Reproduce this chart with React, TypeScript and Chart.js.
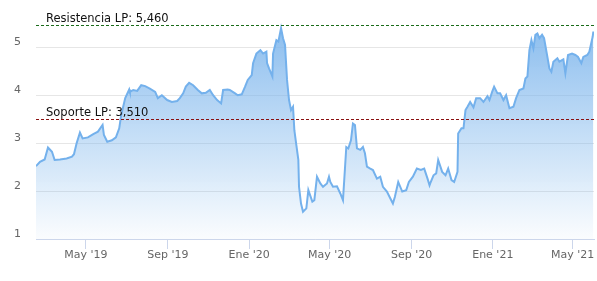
import { useEffect, useRef } from 'react';
import { Chart, registerables } from 'chart.js';

Chart.register(...registerables);

// ---- data ----
const DATES = [
  '2019-02-15','2019-02-21','2019-02-28','2019-03-05','2019-03-11','2019-03-15','2019-03-23','2019-04-02','2019-04-10','2019-04-13',
  '2019-04-17','2019-04-22','2019-04-26','2019-05-04','2019-05-12','2019-05-19','2019-05-26','2019-05-28','2019-06-02','2019-06-09',
  '2019-06-15','2019-06-20','2019-06-23','2019-06-29','2019-07-05','2019-07-06','2019-07-11','2019-07-17','2019-07-23','2019-07-29',
  '2019-08-05','2019-08-13','2019-08-17','2019-08-23','2019-08-31','2019-09-07','2019-09-15','2019-09-19','2019-09-24','2019-09-28',
  '2019-10-03','2019-10-09','2019-10-16','2019-10-22','2019-10-28','2019-11-03','2019-11-08','2019-11-14','2019-11-20','2019-11-23',
  '2019-11-30','2019-12-03','2019-12-11','2019-12-15','2019-12-21','2019-12-26','2019-12-30','2020-01-05','2020-01-07','2020-01-12',
  '2020-01-18','2020-01-22','2020-01-27','2020-01-28','2020-01-31','2020-02-05','2020-02-06','2020-02-11','2020-02-14','2020-02-18',
  '2020-02-21','2020-02-24','2020-02-27','2020-03-01','2020-03-04','2020-03-07','2020-03-09','2020-03-12','2020-03-15','2020-03-16',
  '2020-03-19','2020-03-22','2020-03-27','2020-03-30','2020-04-05','2020-04-08','2020-04-12','2020-04-17','2020-04-21','2020-04-27',
  '2020-04-30','2020-05-02','2020-05-06','2020-05-12','2020-05-17','2020-05-21','2020-05-26','2020-05-29','2020-06-02','2020-06-05',
  '2020-06-08','2020-06-11','2020-06-16','2020-06-20','2020-06-23','2020-06-26','2020-07-01','2020-07-05','2020-07-11','2020-07-16',
  '2020-07-20','2020-07-26','2020-07-31','2020-08-04','2020-08-07','2020-08-12','2020-08-18','2020-08-24','2020-08-28','2020-09-03',
  '2020-09-09','2020-09-15','2020-09-20','2020-09-25','2020-09-28','2020-09-29','2020-10-04','2020-10-08','2020-10-11','2020-10-17',
  '2020-10-22','2020-10-26','2020-10-31','2020-11-04','2020-11-09','2020-11-10','2020-11-15','2020-11-18','2020-11-21','2020-11-24',
  '2020-11-28','2020-12-03','2020-12-07','2020-12-13','2020-12-18','2020-12-24','2020-12-27','2020-12-31','2021-01-03','2021-01-08',
  '2021-01-12','2021-01-17','2021-01-21','2021-01-26','2021-02-01','2021-02-05','2021-02-10','2021-02-16','2021-02-19','2021-02-22',
  '2021-02-25','2021-02-28','2021-03-03','2021-03-06','2021-03-09','2021-03-12','2021-03-16','2021-03-19','2021-03-24','2021-03-27',
  '2021-03-30','2021-04-02','2021-04-08','2021-04-11','2021-04-17','2021-04-20','2021-04-24','2021-04-30','2021-05-05','2021-05-09',
  '2021-05-14','2021-05-17','2021-05-23','2021-05-26','2021-05-31','2021-06-01',
];

const PRICES = [
  2.52, 2.61, 2.66, 2.91, 2.82, 2.65, 2.66, 2.68, 2.72, 2.77,
  3.00, 3.22, 3.10, 3.12, 3.19, 3.24, 3.38, 3.17, 3.03, 3.06,
  3.12, 3.31, 3.59, 3.94, 4.12, 4.07, 4.11, 4.09, 4.21, 4.19,
  4.14, 4.07, 3.94, 4.00, 3.90, 3.86, 3.88, 3.94, 4.04, 4.18,
  4.26, 4.21, 4.11, 4.04, 4.05, 4.11, 4.00, 3.90, 3.83, 4.11,
  4.12, 4.11, 4.04, 4.00, 4.02, 4.18, 4.32, 4.42, 4.67, 4.87,
  4.94, 4.87, 4.91, 4.67, 4.56, 4.39, 4.87, 5.15, 5.12, 5.40,
  5.19, 5.05, 4.32, 3.90, 3.69, 3.76, 3.27, 2.96, 2.65, 2.09,
  1.74, 1.57, 1.64, 2.02, 1.78, 1.81, 2.30, 2.16, 2.09, 2.16,
  2.30, 2.19, 2.09, 2.10, 1.95, 1.81, 2.92, 2.89, 3.06, 3.41,
  3.38, 2.89, 2.86, 2.92, 2.79, 2.51, 2.47, 2.44, 2.26, 2.30,
  2.09, 1.99, 1.85, 1.74, 1.88, 2.19, 1.99, 2.02, 2.19, 2.30,
  2.47, 2.44, 2.47, 2.26, 2.12, 2.16, 2.33, 2.37, 2.65, 2.40,
  2.33, 2.47, 2.23, 2.19, 2.40, 3.20, 3.31, 3.31, 3.69, 3.76,
  3.86, 3.75, 3.94, 3.94, 3.86, 3.98, 3.90, 4.07, 4.18, 4.04,
  4.04, 3.90, 4.00, 3.73, 3.76, 3.94, 4.11, 4.14, 4.35, 4.39,
  4.94, 5.15, 4.98, 5.26, 5.29, 5.19, 5.26, 5.19, 4.80, 4.56,
  4.49, 4.70, 4.77, 4.70, 4.75, 4.46, 4.84, 4.87, 4.84, 4.80,
  4.67, 4.80, 4.84, 4.91, 5.22, 5.33,
];

const X_RANGE = ['2019-02-15', '2021-06-02'];
const TICK_DATES = ['2019-05-01', '2019-09-01', '2020-01-01', '2020-05-01', '2020-09-01', '2021-01-01', '2021-05-01'];
const TICK_LABELS = ["May '19", "Sep '19", "Ene '20", "May '20", "Sep '20", "Ene '21", "May '21"];
const Y_TICKS = [1, 2, 3, 4, 5];
const Y_RANGE = [1, 5.8];

const LEVEL_LABELS = ['Resistencia LP: 5,460', 'Soporte LP: 3,510'];
const LEVEL_VALUES = [5.46, 3.51];
const LEVEL_COLORS = ['#1a6b1a', '#8b1010'];

const toMs = (s: string) => {
  const [y, m, d] = s.split('-').map(Number);
  return Date.UTC(y, m - 1, d);
};

const FONT = '"DejaVu Sans", sans-serif';

const levelsPlugin = {
  id: 'levels',
  afterDatasetsDraw(chart: any) {
    const { ctx, chartArea, scales } = chart;
    const ys = scales.y;
    ctx.save();
    LEVEL_VALUES.forEach((v, i) => {
      const y = Math.round(ys.getPixelForValue(v)) + 0.5;
      ctx.beginPath();
      ctx.setLineDash([3, 2]);
      ctx.lineWidth = 1;
      ctx.strokeStyle = LEVEL_COLORS[i];
      ctx.moveTo(chartArea.left, y);
      ctx.lineTo(chartArea.right, y);
      ctx.stroke();
      ctx.setLineDash([]);
      ctx.fillStyle = '#111';
      ctx.font = `11.5px ${FONT}`;
      ctx.textAlign = 'left';
      ctx.textBaseline = 'alphabetic';
      ctx.fillText(LEVEL_LABELS[i], chartArea.left + 10, y - 4);
    });
    ctx.restore();
  },
};

export default function App() {
  const ref = useRef<HTMLCanvasElement | null>(null);

  useEffect(() => {
    if (!ref.current) return;
    const tickMs = TICK_DATES.map(toMs);
    const chart = new Chart(ref.current, {
      type: 'line',
      data: {
        datasets: [
          {
            data: DATES.map((d, i) => ({ x: toMs(d), y: PRICES[i] })),
            borderColor: '#74b1ec',
            borderWidth: 2,
            pointRadius: 0,
            tension: 0,
            fill: 'start',
            backgroundColor: (c: any) => {
              const { chart } = c;
              const area = chart.chartArea;
              if (!area) return 'rgba(124,181,236,0.5)';
              const g = chart.ctx.createLinearGradient(0, area.top, 0, area.bottom);
              g.addColorStop(0, 'rgba(124,181,236,0.95)');
              g.addColorStop(1, 'rgba(124,181,236,0.03)');
              return g;
            },
          },
        ],
      },
      options: {
        animation: false,
        responsive: false,
        devicePixelRatio: 1,
        layout: { padding: { top: 9, right: 3, left: 0, bottom: 0 } },
        plugins: { legend: { display: false }, tooltip: { enabled: false } },
        scales: {
          x: {
            type: 'linear',
            min: toMs(X_RANGE[0]),
            max: toMs(X_RANGE[1]),
            afterBuildTicks: (s: any) => {
              s.ticks = tickMs.map((v) => ({ value: v }));
            },
            afterFit: (s: any) => {
              s.height = 42;
              s.paddingLeft = 0;
              s.paddingRight = 0;
            },
            grid: {
              drawOnChartArea: false,
              drawTicks: true,
              tickLength: 10,
              color: '#ccd6eb',
            },
            border: { color: '#ccd6eb', width: 1 },
            ticks: {
              autoSkip: false,
              maxRotation: 0,
              padding: 0,
              color: '#666666',
              font: { family: FONT, size: 11 },
              callback: (v: any) => {
                const i = tickMs.indexOf(Number(v));
                return i >= 0 ? TICK_LABELS[i] : '';
              },
            },
          },
          y: {
            type: 'linear',
            min: Y_RANGE[0],
            max: Y_RANGE[1],
            afterBuildTicks: (s: any) => {
              s.ticks = Y_TICKS.map((v) => ({ value: v }));
            },
            afterFit: (s: any) => {
              s.width = 36;
              s.paddingTop = 0;
              s.paddingBottom = 0;
            },
            grid: { color: '#e6e6e6', drawTicks: false, lineWidth: 1 },
            border: { display: false },
            ticks: {
              padding: 15,
              labelOffset: -5,
              color: '#666666',
              font: { family: FONT, size: 11 },
              callback: (v: any) => String(v),
            },
          },
        },
      },
      plugins: [levelsPlugin],
    } as any);
    return () => chart.destroy();
  }, []);

  return (
    <div style={{ position: 'absolute', left: 0, top: 0, width: 597, height: 281, background: '#fff' }}>
      <canvas ref={ref} width={597} height={281} />
    </div>
  );
}
